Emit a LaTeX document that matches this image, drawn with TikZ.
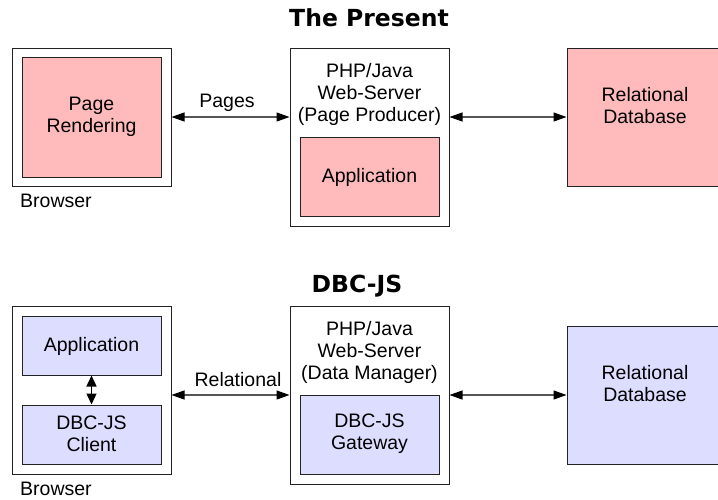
\documentclass[tikz,border=0pt]{standalone}
\usepackage{fontspec}
\setmainfont{Liberation Sans}
\newfontfamily\titlefont{DejaVu Sans}
\usetikzlibrary{arrows.meta}
\definecolor{pinkfill}{HTML}{FFBBBB}
\definecolor{bluefill}{HTML}{DDDDFF}
\definecolor{edge}{HTML}{222222}
\definecolor{linegray}{HTML}{555555}
\tikzset{
  outerbox/.style={draw=edge, line width=1pt, fill=white, inner sep=0pt},
  pinkbox/.style={draw=edge, line width=1pt, fill=pinkfill, inner sep=0pt},
  bluebox/.style={draw=edge, line width=1pt, fill=bluefill, inner sep=0pt},
  txt/.style={inner sep=0pt, align=center, font=\fontsize{19.5}{22}\selectfont},
  ttl/.style={inner sep=0pt, font=\titlefont\bfseries\fontsize{23.5}{28}\selectfont},
  arr/.style={draw=linegray, line width=1.2pt, {Triangle[length=13pt,width=9pt,fill=black,color=black]}-{Triangle[length=13pt,width=9pt,fill=black,color=black]}},
  sarr/.style={draw=black, line width=1.4pt, {Triangle[length=11pt,width=10pt,fill=black,color=black]}-{Triangle[length=11pt,width=10pt,fill=black,color=black]}}
}
\begin{document}
\begin{tikzpicture}[x=1pt,y=-1pt]
\useasboundingbox[fill=white] (0,0) rectangle (718,499);
% ---------- The Present ----------
\node[ttl] (t1) at (369,18) {The Present};
\node[outerbox, minimum width=159pt, minimum height=138pt] (br1) at (91.5,117) {};
\node[pinkbox, minimum width=139pt, minimum height=120pt] (pr1) at (91.5,117) {};
\node[txt] (prt1) at (91.5,117) {Page\\Rendering};
\node[txt, anchor=west] (bl1) at (20,201) {Browser};
\node[outerbox, minimum width=159pt, minimum height=178pt] (srv1) at (369.5,137) {};
\node[txt] (srvt1) at (369.5,94.5) {PHP/Java\\Web-Server\\(Page Producer)};
\node[pinkbox, minimum width=139pt, minimum height=79pt] (app1) at (369.5,176.5) {};
\node[txt] (appt1) at (369.5,177) {Application};
\node[pinkbox, minimum width=160pt, minimum height=138pt] (db1) at (647,117) {};
\node[txt] (dbt1) at (645,106) {Relational\\Database};
\draw[arr] (br1.east) -- (srv1.west |- br1.east);
\node[txt] (pg1) at (227,103) {Pages};
\draw[arr] (srv1.east |- db1.west) -- (db1.west);
% ---------- DBC-JS ----------
\node[ttl] (t2) at (357,286) {DBC-JS};
\node[outerbox, minimum width=159pt, minimum height=168pt] (br2) at (91.5,390) {};
\node[bluebox, minimum width=139pt, minimum height=59pt] (app2) at (91.5,345.5) {};
\node[txt] (appt2) at (91.5,346) {Application};
\node[bluebox, minimum width=139pt, minimum height=59pt] (cli2) at (91.5,434.5) {};
\node[txt] (clit2) at (91.5,434) {DBC-JS\\Client};
\draw[sarr] (app2.south) -- (cli2.north);
\node[txt, anchor=west] (bl2) at (20,489) {Browser};
\node[outerbox, minimum width=159pt, minimum height=178pt] (srv2) at (369.5,395) {};
\node[txt] (srvt2) at (369.5,352.5) {PHP/Java\\Web-Server\\(Data Manager)};
\node[bluebox, minimum width=139pt, minimum height=79pt] (gw2) at (369.5,434.5) {};
\node[txt] (gwt2) at (369.5,434) {DBC-JS\\Gateway};
\node[bluebox, minimum width=160pt, minimum height=138pt] (db2) at (647,395) {};
\node[txt] (dbt2) at (645,384) {Relational\\Database};
\draw[arr] (br2.east |- db2.west) -- (srv2.west |- db2.west);
\node[txt] (rl2) at (238,380) {Relational};
\draw[arr] (srv2.east |- db2.west) -- (db2.west);
\end{tikzpicture}
\end{document}
